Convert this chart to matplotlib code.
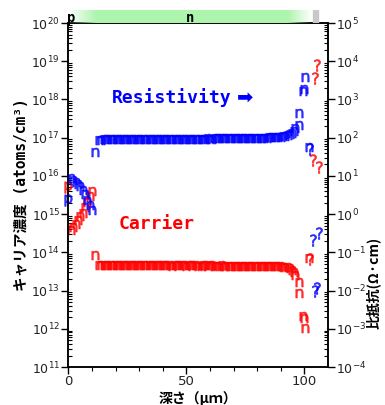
import numpy as np
import matplotlib
matplotlib.use("Agg")
import matplotlib.pyplot as plt

plt.rcParams['axes.unicode_minus'] = False

# measured points: depth (um), carrier (atoms/cm3), resistivity (ohm cm), conduction type
depth = [0.0,
         1.1, 2.1, 3.1, 4.1, 5.1, 6.1, 7.1, 8.1, 9.1, 10.1,
         11.3,
         13, 14, 15, 16, 17, 18, 19, 20, 21, 22,
         23, 24, 25, 26, 27, 28, 29, 30, 31, 32,
         33, 34, 35, 36, 37, 38, 39, 40, 41, 42,
         43, 44, 45, 46, 47, 48, 49, 50, 51, 52,
         53, 54, 55, 56, 57, 58, 59, 60, 61, 62,
         63, 64, 65, 66, 67, 68, 69, 70, 71, 72,
         73, 74, 75, 76, 77, 78, 79, 80, 81, 82,
         83, 84, 85, 86, 87, 88, 89, 90, 91, 92,
         93.0, 94.0, 94.8, 95.5, 96.2,
         97.8, 97.8, 99.4, 99.8, 100.3, 102.0, 102.5,
         103.7, 106.0, 104.5, 105.2]
carrier = [5.1e15,
           3.8e14, 4.5e14, 5.5e14, 6.9e14, 8.7e14, 1.1e15, 1.5e15, 2.1e15, 3.0e15, 4.0e15,
           8.5e13,
           4.7e13, 4.7e13, 4.7e13, 4.8e13, 4.8e13, 4.7e13, 4.7e13, 4.7e13, 4.7e13, 4.6e13,
           4.7e13, 4.7e13, 4.6e13, 4.6e13, 4.7e13, 4.6e13, 4.6e13, 4.6e13, 4.7e13, 4.6e13,
           4.6e13, 4.6e13, 4.6e13, 4.7e13, 4.6e13, 4.6e13, 4.6e13, 4.6e13, 4.6e13, 4.6e13,
           4.6e13, 4.5e13, 4.6e13, 4.6e13, 4.6e13, 4.6e13, 4.6e13, 4.5e13, 4.6e13, 4.6e13,
           4.6e13, 4.6e13, 4.5e13, 4.5e13, 4.6e13, 4.6e13, 4.5e13, 4.6e13, 4.6e13, 4.5e13,
           4.5e13, 4.5e13, 4.6e13, 4.5e13, 4.5e13, 4.5e13, 4.5e13, 4.5e13, 4.5e13, 4.5e13,
           4.5e13, 4.5e13, 4.5e13, 4.5e13, 4.4e13, 4.5e13, 4.5e13, 4.4e13, 4.4e13, 4.4e13,
           4.4e13, 4.4e13, 4.4e13, 4.4e13, 4.3e13, 4.3e13, 4.3e13, 4.3e13, 4.2e13, 4.2e13,
           4.1e13, 3.8e13, 3.4e13, 3.0e13, 2.6e13,
           1.7e13, 8.7e12, 2.1e12, 1.9e12, 1.05e12, 7.0e13, 6.5e13,
           2.6e16, 1.7e16, 3.6e18, 7.9e18]
resist = [2.3,
          8.7, 8.0, 7.1, 6.3, 5.3, 4.3, 3.3, 2.4, 1.7, 1.3,
          43,
          88, 89, 90, 90, 91, 91, 92, 92, 92, 92,
          92, 93, 93, 93, 92, 93, 93, 93, 93, 93,
          93, 93, 94, 93, 93, 94, 94, 93, 94, 94,
          94, 94, 94, 94, 94, 94, 95, 95, 94, 95,
          95, 95, 95, 95, 95, 95, 96, 95, 95, 96,
          96, 96, 96, 96, 96, 96, 97, 97, 97, 97,
          97, 98, 98, 98, 98, 99, 99, 99, 100, 100,
          101, 101, 102, 103, 104, 105, 106, 107, 109, 111,
          115, 122, 135, 150, 175,
          210, 450, 1700, 1900, 3900, 58, 52,
          0.21, 0.32, 0.0098, 0.012]
ctype = ['p'] + ['n'] * 11 + ['n'] * 80 + ['n'] * 5 + ['n'] * 6 + ['?'] * 5

carrier_ticks = [1e11, 1e12, 1e13, 1e14, 1e15, 1e16, 1e17, 1e18, 1e19, 1e20]
resist_ticks = [1e-4, 1e-3, 1e-2, 1e-1, 1e0, 1e1, 1e2, 1e3, 1e4, 1e5]

# type bar along the top (fade stops)
bar_x = [0, 12, 93, 103.2]
bar_alpha = [0, 1, 1, 0]
unknown_span = (103.6, 105.8)

markers = {'p': r'$\mathregular{p}$', 'n': r'$\mathregular{n}$', '?': r'$\mathregular{?}$'}
msizes = {'p': 8.5, 'n': 6.5, '?': 8.5}

depth = np.array(depth)
carrier = np.array(carrier)
resist = np.array(resist)
ctype = np.array(ctype)

fig = plt.figure(figsize=(3.85, 4.05), dpi=100)
ax = fig.add_axes([0.1774, 0.0938, 0.6745, 0.8494])
ax2 = ax.twinx()

for t in ['p', 'n', '?']:
    sel = ctype == t
    ax.plot(depth[sel], carrier[sel], linestyle='none', marker=markers[t], clip_on=False,
            markersize=msizes[t], markeredgewidth=0.4, color='#ff0000', alpha=0.8)
    ax2.plot(depth[sel], resist[sel], linestyle='none', marker=markers[t], clip_on=False,
             markersize=msizes[t], markeredgewidth=0.4, color='#0000ff', alpha=0.8)

ax.set_xlim(0, 110)
ax.set_yscale('log')
ax.set_ylim(1e11, 1e20)
ax2.set_yscale('log')
ax2.set_ylim(1e-4, 1e5)

ax.set_xticks([0, 50, 100])
ax.set_xticks(np.arange(10, 110, 10), minor=True)
for a, ticks in ((ax, carrier_ticks), (ax2, resist_ticks)):
    a.yaxis.set_major_locator(matplotlib.ticker.FixedLocator(ticks))
    a.yaxis.set_major_formatter(matplotlib.ticker.LogFormatterSciNotation())
    minors = [d * s for d in ticks[:-1] for s in range(2, 10)]
    a.yaxis.set_minor_locator(matplotlib.ticker.FixedLocator(minors))
    a.yaxis.set_minor_formatter(matplotlib.ticker.NullFormatter())
    a.tick_params(axis='y', which='major', direction='out', length=5, width=1, pad=1,
                  labelsize=9, labelcolor='#222222')
    a.tick_params(axis='y', which='minor', direction='in', length=3, width=0.8)
    for s in a.spines.values():
        s.set_linewidth(1.1)
ax.tick_params(axis='x', which='major', direction='out', length=5, width=1, pad=1,
               labelsize=9.5, labelcolor='#222222')
ax.tick_params(axis='x', which='minor', direction='out', length=3, width=0.8)

cjk = ['DejaVu Sans Mono', 'Noto Sans CJK JP']
ax.set_ylabel('キャリア濃度 (atoms/cm³)', family=cjk, fontweight='bold', fontsize=10.5)
ax.yaxis.set_label_coords(-0.15, 0.5)
ax.set_xlabel('深さ（μｍ）', family=['Noto Sans CJK JP'], fontweight='bold', fontsize=10)
ax.xaxis.set_label_coords(0.5, -0.07)
ax2.set_ylabel('比抵抗(Ω·cm)', family=['Noto Sans CJK JP', 'DejaVu Sans'], fontweight='bold',
               fontsize=10, rotation=90)
ax2.yaxis.set_label_coords(1.145, 0.245)

ax.text(18.5, 1.1e18, 'Resistivity', color='#0000ff', family=['DejaVu Sans Mono'],
        fontweight='bold', fontsize=13, ha='left', va='center')
ax.text(71.5, 1.1e18, '➡', color='#0000ff', family=['DejaVu Sans'],
        fontweight='bold', fontsize=14, ha='left', va='center')
ax.text(21.5, 5.5e14, 'Carrier', color='#ff0000', family=['DejaVu Sans Mono'],
        fontweight='bold', fontsize=13, ha='left', va='center')

# type bar above the plot
bar = fig.add_axes([0.1774, 0.9432, 0.6745, 0.0321])
grid = np.linspace(0, 110, 881)
img = np.ones((1, grid.size, 4))
img[0, :, 0] = 0.68
img[0, :, 1] = 0.96
img[0, :, 2] = 0.68
img[0, :, 3] = np.interp(grid, bar_x, bar_alpha, right=0)
bar.imshow(img, extent=[0, 110, 0, 1], aspect='auto')
bar.axvspan(unknown_span[0], unknown_span[1], color='#c8c8c8')
bar.set_xlim(0, 110)
bar.set_ylim(0, 1)
bar.axis('off')
bar.text(-0.6, 0.4, 'p', fontweight='bold', fontsize=10, ha='left', va='center', family=['DejaVu Sans Mono'])
bar.text(51.5, 0.4, 'n', fontweight='bold', fontsize=10, ha='center', va='center', family=['DejaVu Sans Mono'])

fig.savefig('out.png', dpi=100)
